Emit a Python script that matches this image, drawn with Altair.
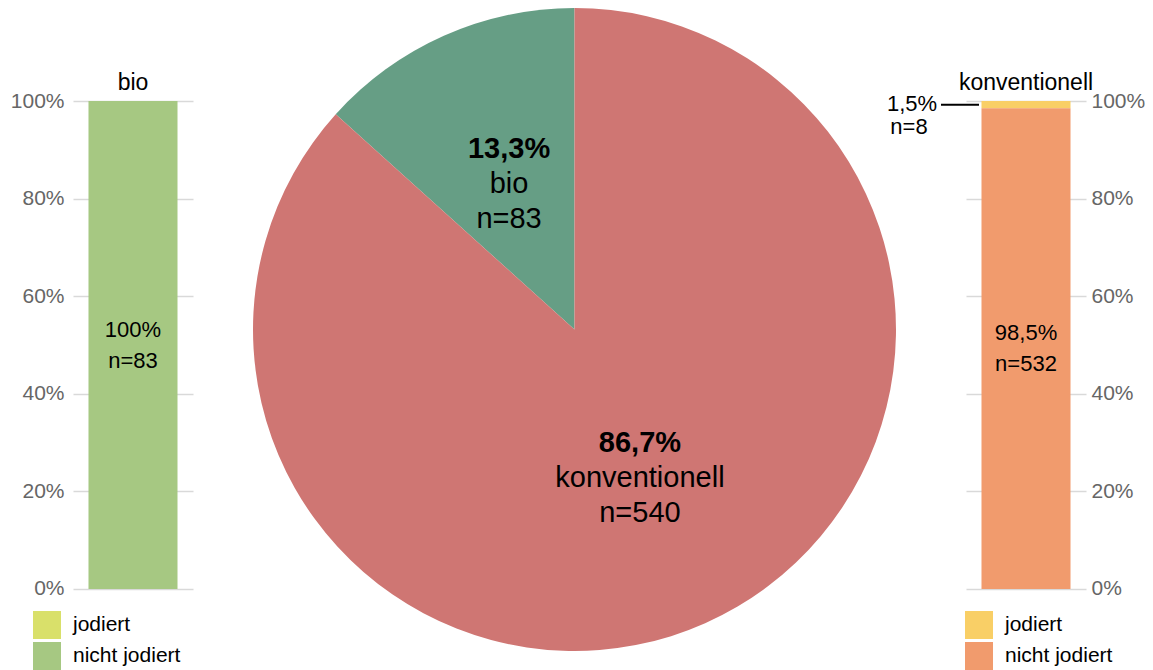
import altair as alt
import pandas as pd

# ---- data ----
groups = ["bio", "konventionell"]
group_counts = [83, 540]
status = ["jodiert", "nicht jodiert"]
bio_counts = [0, 83]
konv_counts = [8, 532]
y_ticks = [0, 0.2, 0.4, 0.6, 0.8, 1.0]

pie_colors = ["#669E85", "#CF7673"]
bio_colors = ["#D9E06A", "#A6C882"]
konv_colors = ["#F9CF66", "#F19B6D"]

FONT = "Liberation Sans"

pie_df = pd.DataFrame({"group": groups, "count": group_counts})
bar_df = pd.DataFrame({
    "group": [groups[0]] * 2 + [groups[1]] * 2,
    "status": status * 2,
    "count": bio_counts + konv_counts,
})

Y_DOMAIN = [-0.1332, 1.1906]
PCT = "replace(format({v}, '.1~%'), '.', ',')"


def bar_chart(name, colors, orient, label_padding, legend_x, annotate):
    base = (
        alt.Chart(bar_df)
        .transform_filter(alt.datum.group == name)
        .transform_stack(
            stack="count", groupby=["group"], as_=["y0", "y1"], offset="normalize",
            sort=[alt.SortField("status", order="descending")],
        )
        .transform_calculate(
            mid="(datum.y0 + datum.y1) / 2",
            pct=PCT.format(v="datum.y1 - datum.y0"),
            ntext="'n=' + datum.count",
        )
    )
    x = alt.X("group:N", axis=None,
              scale=alt.Scale(paddingInner=0, paddingOuter=0.174))
    y_scale = alt.Scale(domain=Y_DOMAIN, nice=False, zero=False)
    bars = base.mark_bar().encode(
        x=x,
        y=alt.Y("y0:Q", scale=y_scale, axis=alt.Axis(
            values=y_ticks, format=".0%", orient=orient, title=None,
            domain=False, ticks=False, grid=True, gridColor="#D9D9D9",
            gridWidth=1.5, labelFontSize=21, labelColor="#666666",
            labelPadding=label_padding, labelFont=FONT)),
        y2="y1:Q",
        color=alt.Color("status:N", scale=alt.Scale(domain=status, range=colors),
                        legend=alt.Legend(
                            title=None, orient="none", legendX=legend_x, legendY=603,
                            symbolType="square", symbolSize=784, symbolStrokeWidth=0,
                            symbolOpacity=1, labelFontSize=21, labelFont=FONT,
                            labelColor="black", labelOffset=12, rowPadding=3,
                            padding=0)),
    )
    center = base.transform_filter(alt.datum.status == "nicht jodiert")
    pct_t = center.mark_text(fontSize=22, font=FONT, dy=-15.5, color="black").encode(
        x=x, y="mid:Q", text="pct:N")
    n_t = center.mark_text(fontSize=22, font=FONT, dy=15.5, color="black").encode(
        x=x, y="mid:Q", text="ntext:N")
    title = center.mark_text(fontSize=23, font=FONT, baseline="alphabetic", dy=-11,
                             color="black").encode(
        x=x, y=alt.datum(1), text="group:N")
    layers = [bars, pct_t, n_t, title]
    if annotate:
        small = base.transform_filter("datum.status == 'jodiert' && datum.count > 0")
        rule = small.mark_rule(color="black", strokeWidth=2).encode(
            x=alt.value(-25), x2=alt.value(13), y="mid:Q")
        a1 = small.mark_text(fontSize=22, font=FONT, align="center", dy=-1,
                             color="black").encode(
            x=alt.value(-54), y="mid:Q", text="pct:N")
        a2 = small.mark_text(fontSize=22, font=FONT, align="center", dy=22,
                             color="black").encode(
            x=alt.value(-57), y="mid:Q", text="ntext:N")
        layers += [rule, a1, a2]
    return alt.layer(*layers).properties(width=120, height=646)


left = bar_chart("bio", bio_colors, "left", 9, -40, False)
right = bar_chart("konventionell", konv_colors, "right", 5, -1, True)

# ---- pie ----
R = 321.5
pbase = alt.Chart(pie_df).transform_joinaggregate(total="sum(count)").transform_calculate(
    pct=PCT.format(v="datum.count / datum.total"),
    ntext="'n=' + datum.count",
)
theta = alt.Theta("count:Q", stack=True)
order = alt.Order("group:N", sort="descending")
arc = pbase.mark_arc(outerRadius=R).encode(
    theta=theta, order=order,
    color=alt.Color("group:N", scale=alt.Scale(domain=groups, range=pie_colors),
                    legend=None),
)
LR = 161
t1 = pbase.mark_text(radius=LR, fontSize=29, fontWeight="bold", font=FONT,
                     baseline="alphabetic", dy=-24.5, color="black").encode(
    theta=theta, order=order, text="pct:N")
t2 = pbase.mark_text(radius=LR, fontSize=29, font=FONT, baseline="alphabetic",
                     dy=10.5, color="black").encode(
    theta=theta, order=order, text="group:N")
t3 = pbase.mark_text(radius=LR, fontSize=29, font=FONT, baseline="alphabetic",
                     dy=45.5, color="black").encode(
    theta=theta, order=order, text="ntext:N")
pie = alt.layer(arc, t1, t2, t3).properties(width=643, height=643)

inner = alt.hconcat(pie, right, spacing=70, bounds="flush").resolve_scale(
    color="independent", x="independent", y="independent", theta="independent")
chart = (
    alt.hconcat(left, inner, spacing=60, bounds="flush")
    .resolve_scale(color="independent", x="independent", y="independent")
    .properties(padding={"left": 2, "top": 0, "right": 0, "bottom": 0})
    .configure_view(stroke=None)
)

chart.save("out.html", embed_options={"renderer": "svg", "actions": False})
